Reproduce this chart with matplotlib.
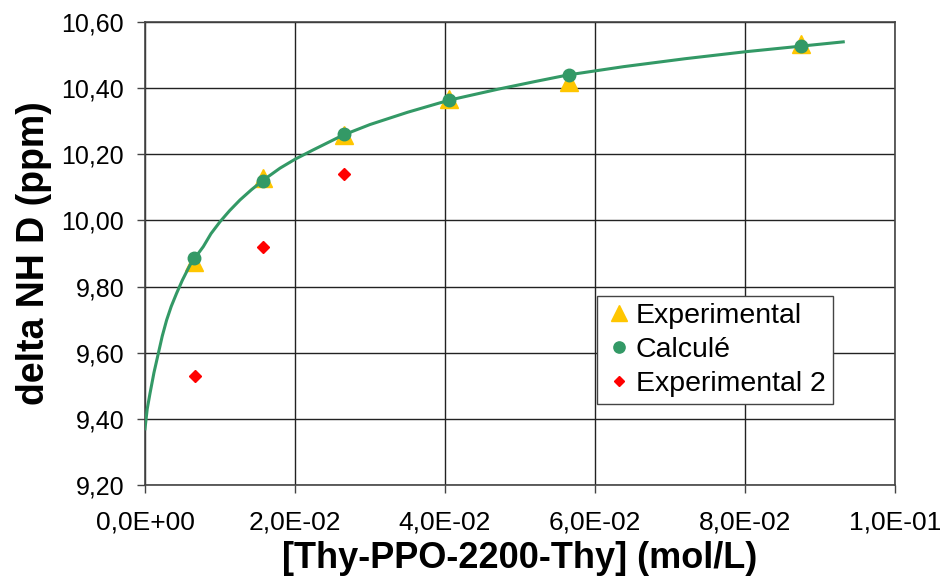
import matplotlib.pyplot as plt
from matplotlib.ticker import FuncFormatter, MultipleLocator

plt.rcParams['font.family'] = ['Liberation Sans', 'DejaVu Sans']

# measured points
conc = [0.0066, 0.0157, 0.0265, 0.0406, 0.0565, 0.0875]
delta_exp = [9.875, 10.127, 10.258, 10.366, 10.420, 10.533]
delta_calc = [9.886, 10.119, 10.260, 10.364, 10.440, 10.527]

conc_exp2 = [0.0067, 0.0157, 0.0265]
delta_exp2 = [9.53, 9.92, 10.14]

# fitted curve
curve_x = [0.0, 0.0003, 0.00067, 0.0012, 0.00178, 0.0023, 0.00289, 0.0035,
           0.00422, 0.0050, 0.0060, 0.0070, 0.00778, 0.0088, 0.0100, 0.0113,
           0.01267, 0.0142, 0.01578, 0.0180, 0.0200, 0.0224, 0.0264, 0.0300,
           0.0350, 0.0406, 0.0471, 0.0520, 0.0564, 0.0638, 0.0720, 0.0800,
           0.0870, 0.0931]
curve_y = [9.37, 9.43, 9.477, 9.54, 9.598, 9.65, 9.699, 9.74,
           9.780, 9.82, 9.865, 9.897, 9.921, 9.96, 9.996, 10.03,
           10.062, 10.093, 10.122, 10.158, 10.185, 10.213, 10.258, 10.29,
           10.327, 10.364, 10.397, 10.42, 10.440, 10.465, 10.489, 10.510,
           10.526, 10.540]

fig = plt.figure(figsize=(9.42, 5.81), dpi=100)
ax = fig.add_axes([0.1539, 0.1652, 0.7962, 0.7969])

ax.plot(conc, delta_exp, linestyle='none', marker='^', markersize=13,
        color='#FFC600', label='Experimental', zorder=3)
ax.plot(curve_x, curve_y, color='#339966', linewidth=2.2, zorder=4)
ax.plot(conc, delta_calc, linestyle='none', marker='o', markersize=9,
        color='#339966', label='Calculé', zorder=5)
ax.plot(conc_exp2, delta_exp2, linestyle='none', marker='D', markersize=6,
        color='#FF0000', label='Experimental 2', zorder=5)

ax.set_xlim(0, 0.1)
ax.set_ylim(9.2, 10.6)
ax.xaxis.set_major_locator(MultipleLocator(0.02))
ax.yaxis.set_major_locator(MultipleLocator(0.2))
ax.xaxis.set_major_formatter(FuncFormatter(lambda v, p: f"{v:.1E}".replace('.', ',')))
ax.yaxis.set_major_formatter(FuncFormatter(lambda v, p: f"{v:.2f}".replace('.', ',')))
ax.tick_params(length=6, width=1, color='#444444', direction='out')
ax.tick_params(axis='y', labelsize=18, pad=9)
ax.tick_params(axis='x', labelsize=19, pad=12)

ax.grid(True, color='#222222', linewidth=1)
for s in ax.spines.values():
    s.set_color('#444444')
    s.set_linewidth(1.2)

ax.set_xlabel('[Thy-PPO-2200-Thy] (mol/L)', fontsize=26, fontweight='bold', labelpad=5)
ax.set_ylabel('delta NH D (ppm)', fontsize=27, fontweight='bold', labelpad=7)

leg = ax.legend(loc='lower left', bbox_to_anchor=(0.603, 0.175), borderaxespad=0,
                fontsize=20.5, frameon=True, fancybox=False, handletextpad=0.1,
                handlelength=1.0, labelspacing=0.28, borderpad=0.25,
                markerscale=0.9)
leg.get_frame().set_edgecolor('#444444')
leg.get_frame().set_linewidth(1)
leg.get_frame().set_alpha(1)

fig.savefig('out.png', dpi=100)
